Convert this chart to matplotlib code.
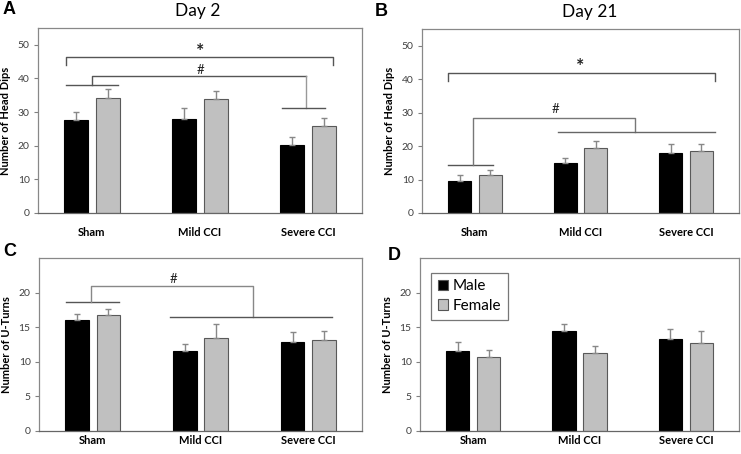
import matplotlib
matplotlib.use('Agg')
import matplotlib.pyplot as plt
import numpy as np

plt.rcParams['font.family'] = ['Lato', 'DejaVu Sans']

categories = ['Sham', 'Mild CCI', 'Severe CCI']

# day 2 head dips
a_male = [27.6, 27.8, 20.1]
a_male_err = [2.5, 3.3, 2.6]
a_female = [34.3, 34.0, 25.9]
a_female_err = [2.6, 2.3, 2.2]

# day 21 head dips
b_male = [9.7, 14.9, 17.9]
b_male_err = [1.6, 1.4, 2.7]
b_female = [11.4, 19.4, 18.6]
b_female_err = [1.5, 2.2, 2.1]

# day 2 u-turns
c_male = [16.0, 11.5, 12.8]
c_male_err = [0.9, 1.1, 1.5]
c_female = [16.8, 13.4, 13.1]
c_female_err = [0.9, 2.0, 1.4]

# day 21 u-turns
d_male = [11.6, 14.4, 13.3]
d_male_err = [1.2, 1.0, 1.4]
d_female = [10.7, 11.2, 12.7]
d_female_err = [1.0, 1.1, 1.7]

# significance brackets: (x points, y points, colour), labels: (x, y, text)
a_brackets = [
    ([-0.24, -0.24, 2.23, 2.23], [44.0, 46.5, 46.5, 44.0], '#555555'),
    ([-0.24, 0.24], [38.1, 38.1], '#555555'),
    ([0.0, 0.0, 1.98], [38.1, 40.6, 40.6], '#555555'),
    ([1.98, 1.98], [40.6, 31.3], '#999999'),
    ([1.76, 2.16], [31.3, 31.3], '#555555'),
]
a_marks = [(1.0, 48.0, '*'), (1.0, 42.4, '#')]

b_brackets = [
    ([-0.25, -0.25, 2.27, 2.27], [39.6, 41.8, 41.8, 39.6], '#555555'),
    ([-0.25, 0.17], [14.3, 14.3], '#555555'),
    ([-0.02, -0.02, 1.52, 1.52], [14.3, 28.3, 28.3, 24.3], '#777777'),
    ([0.79, 2.27], [24.3, 24.3], '#666666'),
]
b_marks = [(1.0, 43.8, '*'), (0.76, 31.0, '#')]

c_brackets = [
    ([-0.25, 0.24], [18.7, 18.7], '#555555'),
    ([-0.02, -0.02, 1.49, 1.49], [18.7, 20.9, 20.9, 16.5], '#888888'),
    ([0.72, 2.22], [16.5, 16.5], '#555555'),
]
c_marks = [(0.75, 22.0, '#')]

W, H = 741, 454
fig = plt.figure(figsize=(W / 100, H / 100), dpi=100)


def make_axes(left, top, right, bottom):
    return fig.add_axes([left / W, 1 - bottom / H, (right - left) / W, (bottom - top) / H])


def draw_panel(ax, male, male_err, female, female_err, ymax, ystep, ylabel, label_pad):
    x = np.arange(len(categories))
    w = 0.22
    ax.bar(x - 0.145, male, w, color='black', edgecolor='black', linewidth=0.8,
           yerr=[np.zeros(3), male_err], capsize=2.2,
           error_kw=dict(ecolor='#888888', elinewidth=1, capthick=1), label='Male', zorder=2)
    ax.bar(x + 0.145, female, w, color='#c0c0c0', edgecolor='#595959', linewidth=0.8,
           yerr=[np.zeros(3), female_err], capsize=2.2,
           error_kw=dict(ecolor='#888888', elinewidth=1, capthick=1), label='Female', zorder=2)
    ax.set_xlim(-0.5, 2.5)
    ax.set_ylim(0, ymax)
    ax.set_yticks(np.arange(0, ymax, ystep))
    ax.set_xticks(x)
    ax.set_xticklabels(categories, fontweight='bold', fontsize=8)
    ax.tick_params(axis='x', length=0, pad=label_pad)
    ax.tick_params(axis='y', length=3, width=0.8, color='#808080', labelsize=7.5,
                   labelcolor='#404040', pad=3)
    ax.set_ylabel(ylabel, fontweight='bold', fontsize=8, labelpad=5)
    for side in ['left', 'top', 'right']:
        ax.spines[side].set_color('#888888')
        ax.spines[side].set_linewidth(0.9)
    ax.spines['bottom'].set_color('#666666')
    ax.spines['bottom'].set_linewidth(0.9)


def draw_brackets(ax, brackets, marks):
    for bx, by, col in brackets:
        ax.plot(bx, by, color=col, linewidth=1, zorder=1)
    for mx, my, txt in marks:
        ax.text(mx, my, txt, ha='center', va='center',
                fontsize=14 if txt == '*' else 9.5,
                fontweight='bold' if txt == '*' else 'normal', color='#222222')


# panel A
axA = make_axes(38, 28, 362, 213)
draw_panel(axA, a_male, a_male_err, a_female, a_female_err, 55, 10, 'Number of Head Dips', 10)
draw_brackets(axA, a_brackets, a_marks)

# panel B
axB = make_axes(422, 29, 739, 213)
draw_panel(axB, b_male, b_male_err, b_female, b_female_err, 55, 10, 'Number of Head Dips', 10)
draw_brackets(axB, b_brackets, b_marks)

# panel C
axC = make_axes(39, 258, 362, 431)
draw_panel(axC, c_male, c_male_err, c_female, c_female_err, 25, 5, 'Number of U-Turns', 3)
draw_brackets(axC, c_brackets, c_marks)

# panel D
axD = make_axes(420, 258, 739, 431)
draw_panel(axD, d_male, d_male_err, d_female, d_female_err, 25, 5, 'Number of U-Turns', 3)
leg = axD.legend(loc='upper left', fontsize=11, frameon=True, fancybox=False,
                 handlelength=0.7, handleheight=0.7, handletextpad=0.3,
                 borderpad=0.45, labelspacing=0.35, bbox_to_anchor=(0.01, 0.96))
leg.get_frame().set_edgecolor('#555555')
leg.get_frame().set_linewidth(0.9)
for h in leg.legend_handles:
    h.set_edgecolor('#555555')

# titles and panel letters
fig.text(198 / W, 1 - 11 / H, 'Day 2', ha='center', va='center', fontsize=12.5)
fig.text(590 / W, 1 - 12 / H, 'Day 21', ha='center', va='center', fontsize=12.5)
for letter, px, py in [('A', 3, 10), ('B', 375, 11), ('C', 3, 252), ('D', 388, 256)]:
    fig.text(px / W, 1 - py / H, letter, ha='left', va='center', fontsize=13,
             fontweight='bold', family='Liberation Sans')

fig.savefig('out.png', dpi=100)
